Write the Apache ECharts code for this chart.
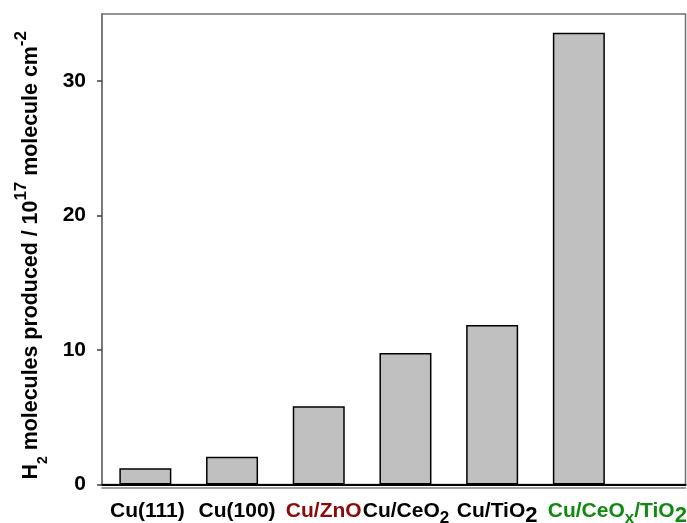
<!DOCTYPE html>
<html><head><meta charset="utf-8">
<script src="https://cdn.jsdelivr.net/npm/echarts@6/dist/echarts.min.js"></script>
<style>html,body{margin:0;padding:0;background:#fff}#c{width:687px;height:523px}</style>
</head><body><div id="c"></div>
<script>
// ---- data ----
const categories = ['Cu(111)', 'Cu(100)', 'Cu/ZnO', 'Cu/CeO2', 'Cu/TiO2', 'Cu/CeOx/TiO2'];
const categoryMarkup = ['{m|Cu(111)}', '{m|Cu(100)}', '{m|Cu/ZnO}', '{m|Cu/CeO}{s|2}', '{m|Cu/TiO}{t|2}', '{m|Cu/CeO}{s|x}{m|/TiO}{t|2}'];
const values = [1.21, 2.06, 5.83, 9.78, 11.86, 33.6];
const yTicks = [0, 10, 20, 30];
// ---- style / layout ----
const labelColors = ['#000000', '#000000', '#8b0a0a', '#000000', '#000000', '#118a11'];
const labelShiftPx = [2, 5, 5, 0.5, 5, 38.5];
const FONT = 'Liberation Sans, Arial, sans-serif';
const xMax = 6.73;
const gridLeft = 102, gridRight = 1.5;
const unitPx = (687 - gridLeft - gridRight) / xMax;

const rich = {};
categories.forEach((c, i) => {
  const base = { fontFamily: FONT, fontWeight: 'bold', color: labelColors[i] };
  rich['m' + i] = Object.assign({}, base, { fontSize: 21, lineHeight: 30 });
  rich['s' + i] = Object.assign({}, base, { fontSize: 17, lineHeight: 21, verticalAlign: 'bottom' });
  rich['t' + i] = Object.assign({}, base, { fontSize: 22, lineHeight: 19, verticalAlign: 'bottom' });
});

const chart = echarts.init(document.getElementById('c'));
chart.setOption({
  animation: false,
  backgroundColor: '#ffffff',
  grid: { left: gridLeft, right: gridRight, top: 14, bottom: 38.5, show: true, borderColor: '#707070', borderWidth: 1.5, backgroundColor: 'transparent', containLabel: false, outerBoundsMode: 'none' },
  xAxis: [{
    type: 'value', min: 0, max: xMax, position: 'bottom',
    axisLine: { show: true, lineStyle: { color: '#000', width: 2 } },
    axisTick: { show: false }, splitLine: { show: false },
    axisLabel: {
      show: true, margin: 12, hideOverlap: false,
      customValues: categories.map((c, i) => i + 0.5 + labelShiftPx[i] / unitPx),
      formatter: function (v) {
        const i = Math.floor(v);
        if (i < 0 || i >= categories.length) return '';
        return categoryMarkup[i].replace(/\{(\w)\|/g, '{$1' + i + '|');
      },
      rich: rich
    }
  }, {
    type: 'value', min: 0, max: xMax, position: 'bottom', offset: 3,
    axisLine: { show: true, lineStyle: { color: '#808080', width: 1.5 } },
    axisTick: { show: false }, splitLine: { show: false }, axisLabel: { show: false }
  }],
  yAxis: {
    type: 'value', min: 0, max: 35,
    axisLine: { show: true, lineStyle: { color: '#707070', width: 1.5 } },
    axisTick: { show: true, length: 5, customValues: yTicks, lineStyle: { color: '#404040', width: 1.5 } },
    splitLine: { show: false },
    axisLabel: { customValues: yTicks, margin: 16, fontFamily: FONT, fontWeight: 'bold', fontSize: 21, color: '#000' },
    name: '{b|H}{sub|2}{b| molecules produced / 10}{sup|17}{b| molecule cm}{sup|-2}',
    nameLocation: 'middle', nameRotate: 90, nameGap: 52,
    nameTextStyle: {
      padding: [0, 12, 0, 0],
      rich: {
        b: { fontFamily: FONT, fontWeight: 'bold', fontSize: 21.4, lineHeight: 37, color: '#000' },
        sub: { fontFamily: FONT, fontWeight: 'bold', fontSize: 14, lineHeight: 24, verticalAlign: 'bottom', color: '#000' },
        sup: { fontFamily: FONT, fontWeight: 'bold', fontSize: 17, lineHeight: 17, verticalAlign: 'top', color: '#000' }
      }
    }
  },
  series: [{
    type: 'bar', xAxisIndex: 0,
    data: values.map((v, i) => [i + 0.5, v]),
    barWidth: 52,
    itemStyle: { color: '#c0c0c0', borderColor: '#000', borderWidth: 1.5 }
  }]
});
</script>
</body></html>
